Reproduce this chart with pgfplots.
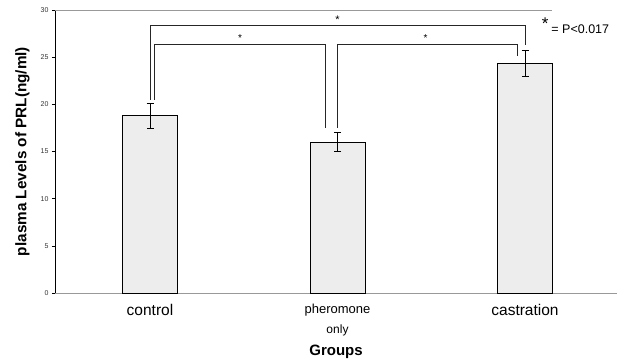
\documentclass[border=0pt]{standalone}
\usepackage{pgfplots}
\pgfplotsset{compat=1.18}
\usepackage{fontspec}
\setmainfont{Liberation Sans}
\begin{document}
\begin{tikzpicture}
\useasboundingbox (-55pt,-70pt) rectangle (563pt,293pt);
\begin{axis}[
  at={(0,0)}, anchor=south west,
  scale only axis, width=562pt, height=283pt,
  xmin=-0.5067, xmax=2.4907, ymin=0, ymax=30,
  axis x line*=bottom, axis y line*=left,
  x axis line style={draw=gray!80, -},
  y axis line style={draw=black, -},
  ytick={0,5,...,30},
  yticklabel style={font=\fontsize{7}{8}\selectfont, text=black!80},
  /pgf/number format/assume math mode=true,
  tick style={black, thin},
  major tick length=3pt,
  tick align=outside,
  xtick={0,1,2}, xtick style={draw=none},
  xticklabels={{\fontsize{15.5}{18}\selectfont control},{\fontsize{13}{15}\selectfont pheromone\\[8pt]\fontsize{12}{14}\selectfont only},{\fontsize{15.5}{18}\selectfont castration}},
  xticklabel style={align=center, yshift=-4.5pt},
  ylabel={\bfseries plasma Levels of PRL(ng/ml)},
  ylabel style={font=\fontsize{15.3}{16}\selectfont, at={(axis description cs:-0.058,0.5)}, anchor=center},
  xlabel={\bfseries Groups},
  xlabel style={font=\fontsize{15}{16}\selectfont, at={(axis description cs:0.5,-0.2085)}, anchor=center},
  clip=false,
]
\addplot[ybar, bar width=55pt, fill=gray!14, draw=black, thin,
  error bars/.cd, y dir=both, y explicit,
  error bar style={black, thin},
  error mark options={rotate=90, mark size=3.5pt, black, thin}]
  coordinates {(0,18.8) +- (0,1.3) (1,16.0) +- (0,1.0) (2,24.35) +- (0,1.4)};
% top border of plot area
\draw[gray!80] (axis cs:-0.5067,30) -- (axis cs:2.144,30);
% significance brackets
\draw[black!85, thin] (axis cs:0,20.5) -- (axis cs:0,28.35) -- (axis cs:2.0,28.35) -- (axis cs:2.0,26.3);
\draw[black!85, thin] (axis cs:0.023,20.5) -- (axis cs:0.023,26.4) -- (axis cs:0.937,26.4) -- (axis cs:0.937,17.5);
\draw[black!85, thin] (axis cs:0.996,17.5) -- (axis cs:0.996,26.4) -- (axis cs:1.957,26.4) -- (axis cs:1.957,25.1);
\node[font=\fontsize{11}{11}\selectfont, inner sep=0pt] at (axis cs:1.0,29.0) {*};
\node[font=\fontsize{10}{10}\selectfont, inner sep=0pt] at (axis cs:0.48,27.0) {*};
\node[font=\fontsize{10}{10}\selectfont, inner sep=0pt] at (axis cs:1.47,27.0) {*};
\node[font=\fontsize{17}{17}\selectfont, inner sep=0pt] at (axis cs:2.107,28.6) {*};
\node[font=\fontsize{12.5}{13}\selectfont, inner sep=0pt, anchor=west] at (axis cs:2.14,28.0) {= P<0.017};
\end{axis}
\end{tikzpicture}
\end{document}
